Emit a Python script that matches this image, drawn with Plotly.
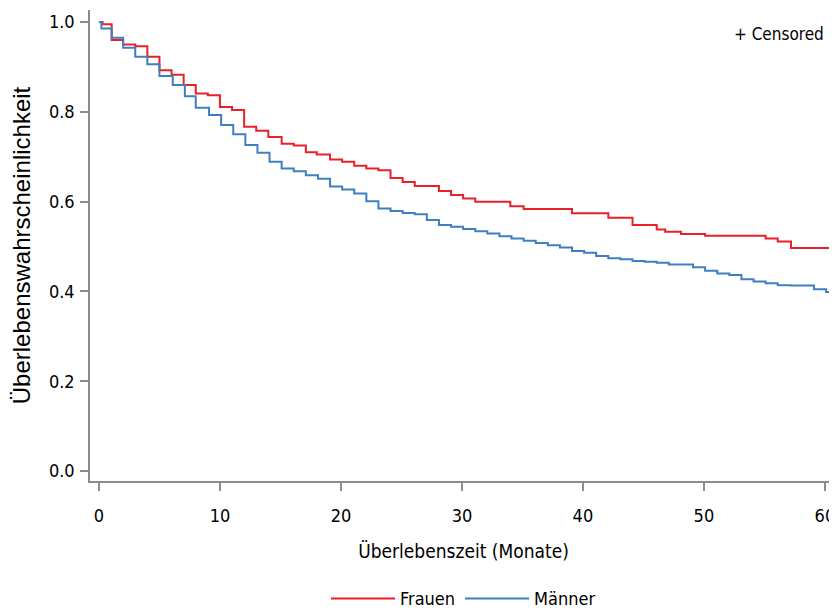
import plotly.graph_objects as go

# ---- data ----
frauen_t = [0, 0.3, 1.05, 2, 3, 4, 5, 6, 7, 8, 9, 10, 11, 12, 13, 14, 15.1, 16.1, 17.1, 18.0,
            19.1, 20.1, 21.1, 22.1, 23.1, 24.1, 25.1, 26.1, 28.1, 29.1, 30.1, 31.1, 34.0, 35.1,
            39.1, 42.1, 44.1, 46.1, 46.8, 48.1, 50.1, 55.1, 56.1, 57.2, 61.0]
frauen_s = [1.0, 0.995, 0.960, 0.950, 0.946, 0.923, 0.893, 0.883, 0.860, 0.841, 0.837, 0.811,
            0.804, 0.767, 0.758, 0.744, 0.729, 0.725, 0.710, 0.705, 0.694, 0.689, 0.680, 0.674,
            0.670, 0.653, 0.644, 0.635, 0.624, 0.615, 0.607, 0.600, 0.590, 0.5835, 0.574, 0.564,
            0.548, 0.538, 0.533, 0.528, 0.524, 0.518, 0.511, 0.497, 0.497]

maenner_t = [0, 0.2, 1.05, 2, 3, 4, 5, 6.1, 7.1, 8, 9.1, 10.1, 11.1, 12.1, 13.1, 14.1, 15.1,
             16.1, 17.1, 18.1, 19.1, 20.1, 21.1, 22.1, 23.1, 24.1, 25.1, 26.1, 27.1, 28.1, 29.1,
             30.1, 31.1, 32.1, 33.1, 34.1, 35.1, 36.1, 37.1, 38.1, 39.1, 40.1, 41.1, 42.1, 43.1,
             44.1, 45.1, 46.1, 47.1, 49.1, 50.1, 51.1, 52.1, 53.1, 54.1, 55.1, 56.1, 57.2, 59.1,
             60.1, 61.0]
maenner_s = [1.0, 0.986, 0.965, 0.943, 0.923, 0.906, 0.880,
             0.860, 0.835, 0.809, 0.793, 0.771, 0.750, 0.726, 0.709, 0.689, 0.674,
             0.668, 0.659, 0.651, 0.634, 0.627, 0.618, 0.601, 0.585, 0.579, 0.575,
             0.572, 0.559, 0.548, 0.544, 0.539, 0.534, 0.529, 0.523, 0.518, 0.513,
             0.508, 0.503, 0.498, 0.490, 0.486, 0.479, 0.474, 0.4715, 0.468, 0.466,
             0.464, 0.460,
             0.454, 0.446, 0.440, 0.4365, 0.427, 0.422, 0.418, 0.414,
             0.413, 0.405, 0.399, 0.399]

x_ticks = [0, 10, 20, 30, 40, 50, 60]
y_ticks = [0.0, 0.2, 0.4, 0.6, 0.8, 1.0]
y_tick_labels = ["0.0", "0.2", "0.4", "0.6", "0.8", "1.0"]

RED = "#E8202A"
BLUE = "#3F7FC1"
AXIS = "#8C8C8C"
FONT = "Liberation Sans Narrow, DejaVu Sans Condensed, Liberation Sans, sans-serif"

fig = go.Figure()
fig.add_trace(go.Scatter(x=frauen_t, y=frauen_s, mode="lines", name="Frauen",
                         line=dict(color=RED, width=2, shape="hv")))
fig.add_trace(go.Scatter(x=maenner_t, y=maenner_s, mode="lines", name="Männer",
                         line=dict(color=BLUE, width=2, shape="hv")))

# page body has an 8px default margin; figure offset accounted for in margins
fig.update_layout(
    width=829, height=610,
    margin=dict(l=82, r=0, t=2, b=137),
    paper_bgcolor="white", plot_bgcolor="white",
    font=dict(family=FONT, size=17, color="black"),
    showlegend=True,
    legend=dict(orientation="h", x=0.5, xanchor="center", y=-0.25, yanchor="middle",
                font=dict(size=18), itemwidth=64, traceorder="normal",
                tracegroupgap=0, borderwidth=0),
    annotations=[dict(text="+ Censored", x=0.985, y=0.975, xref="paper", yref="paper",
                      xanchor="right", yanchor="top", showarrow=False,
                      font=dict(size=17, family=FONT))],
)
fig.update_xaxes(range=[-0.74, 61.0], tickvals=x_ticks, ticks="outside", ticklen=8,
                 tickcolor=AXIS, tickwidth=1.5, showline=True, linecolor=AXIS, linewidth=1.5,
                 showgrid=False, zeroline=False, tickfont=dict(size=18), automargin=False,
                 ticklabelstandoff=10,
                 title=dict(text="Überlebenszeit (Monate)", font=dict(size=19), standoff=19))
fig.update_yaxes(range=[-0.0223, 1.027], tickvals=y_ticks, ticktext=y_tick_labels,
                 ticks="outside", ticklen=8, tickcolor=AXIS, tickwidth=1.5, showline=True,
                 linecolor=AXIS, linewidth=1.5, showgrid=False, zeroline=False,
                 tickfont=dict(size=18), automargin=False, ticklabelstandoff=2,
                 title=dict(text="Überlebenswahrscheinlichkeit",
                            font=dict(size=24, family="Liberation Sans, sans-serif"),
                            standoff=14))

fig.write_html("out.html")
